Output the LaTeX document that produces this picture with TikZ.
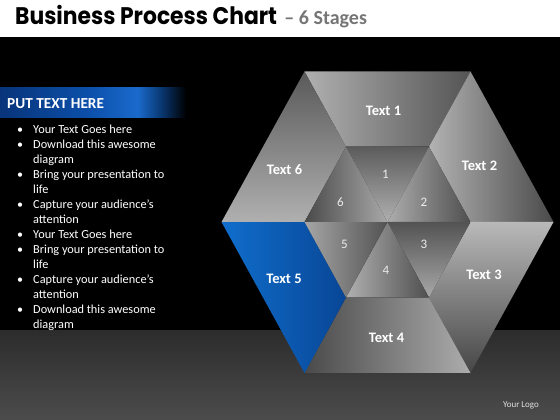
\documentclass[tikz,border=0pt]{standalone}
\usepackage{fontspec}
\setmainfont{Carlito}
\newfontfamily\titlefont{Poppins}
\usetikzlibrary{calc}
\definecolor{bbA}{RGB}{8,52,122}
\definecolor{bbB}{RGB}{12,80,170}
\definecolor{bbC}{RGB}{26,106,204}
\definecolor{bbD}{RGB}{10,58,118}
\definecolor{subgray}{RGB}{118,118,118}
\definecolor{floorTop}{RGB}{44,44,44}
\definecolor{floorBot}{RGB}{76,76,76}
\definecolor{numgray}{RGB}{236,236,236}
\definecolor{blueL}{RGB}{16,110,204}
\definecolor{blueD}{RGB}{8,70,150}
\pgfdeclarehorizontalshading{bluebar}{100bp}{color(0bp)=(bbA); color(25bp)=(bbA); color(49bp)=(bbB); color(62bp)=(bbC); color(68bp)=(bbD); color(75bp)=(black); color(100bp)=(black)}
\tikzset{
  face/.style={draw=none},
  bigtxt/.style={text=white, font=\bfseries\fontsize{14.5}{16}\selectfont, inner sep=0},
  numtxt/.style={text=numgray, font=\fontsize{13}{14}\selectfont, inner sep=0},
  bulletline/.style={anchor=base west, text=white, font=\fontsize{12.3}{15}\selectfont, inner sep=0},
  bulletdot/.style={anchor=base, text=white, font=\fontsize{12}{15}\selectfont, inner sep=0}
}
\begin{document}
\begin{tikzpicture}[x=1pt,y=1pt]
\useasboundingbox (0,0) rectangle (560,420);
% background
\fill[white] (0,383) rectangle (560,420);
\fill[black] (0,89) rectangle (560,383);
\shade[top color=floorTop, bottom color=floorBot] (0,0) rectangle (560,89);
% title
\node[anchor=base west, inner sep=0] (title) at (15,395)
  {\scalebox{0.91}[1]{\titlefont\bfseries\fontsize{24}{24}\selectfont Business Process Chart}};
\node[anchor=base west, inner sep=0, text=subgray] (sub) at ($(title.base east)+(7,0)$)
  {\bfseries\fontsize{20}{20}\selectfont – 6 Stages};
% left panel
\shade[shading=bluebar] (0,302) rectangle (186,332);
\node[anchor=base west, inner sep=0, text=white, font=\bfseries\fontsize{15.3}{16}\selectfont] (head) at (7,311.5) {PUT TEXT HERE};
\foreach \k/\t in {1/{Your Text Goes here},2/{Download this awesome},3/{diagram},4/{Bring your presentation to},5/{life},6/{Capture your audience’s},7/{attention},8/{Your Text Goes here},9/{Bring your presentation to},10/{life},11/{Capture your audience’s},12/{attention},13/{Download this awesome},14/{diagram}}{
  \node[bulletline] (line\k) at (33,{420-134-15*(\k-1)}) {\t};
}
\foreach \k in {1,2,4,6,8,9,11,13}{
  \node[bulletdot] (dot\k) at (20,{420-134-15*(\k-1)}) {•};
}
% hexagon geometry
\coordinate (C) at (387.5,198);
\coordinate (OR) at (553.5,198);
\coordinate (OTR) at (470.5,348.5);
\coordinate (OTL) at (304.5,348.5);
\coordinate (OL) at (221.5,198);
\coordinate (OBL) at (304.5,47);
\coordinate (OBR) at (470.5,47);
\coordinate (IR) at (470.5,198);
\coordinate (ITR) at (429,273.25);
\coordinate (ITL) at (346,273.25);
\coordinate (IL) at (304.5,198);
\coordinate (IBL) at (346,122.5);
\coordinate (IBR) at (429,122.5);
% outer faces
\shade[face, left color=gray!62, right color=gray!66!black] (OTL) -- (OTR) -- (ITR) -- (ITL) -- cycle;
\shade[face, left color=gray!60, right color=gray!58!black] (OTR) -- (OR) -- (IR) -- (ITR) -- cycle;
\shade[face, top color=gray!55, bottom color=gray!55!black] (OR) -- (OBR) -- (IBR) -- (IR) -- cycle;
\shade[face, left color=gray!58!black, right color=gray!65] (OBR) -- (OBL) -- (IBL) -- (IBR) -- cycle;
\shade[face, left color=blueL, right color=blueD] (OBL) -- (OL) -- (IL) -- (IBL) -- cycle;
\shade[face, top color=gray!70!black, bottom color=gray!62] (OL) -- (OTL) -- (ITL) -- (IL) -- cycle;
% inner triangles
\shade[face, top color=gray!72!black, bottom color=gray!62] (C) -- (ITL) -- (ITR) -- cycle;
\shade[face, left color=gray!65, right color=gray!62!black] (C) -- (ITR) -- (IR) -- cycle;
\shade[face, top color=gray!65!black, bottom color=gray!68] (C) -- (IR) -- (IBR) -- cycle;
\shade[face, left color=gray!62, right color=gray!62!black] (C) -- (IBR) -- (IBL) -- cycle;
\shade[face, left color=gray!70, right color=gray!65!black] (C) -- (IBL) -- (IL) -- cycle;
\shade[face, left color=gray!58!black, right color=gray!68] (C) -- (IL) -- (ITL) -- cycle;
% labels
\node[bigtxt] (t1) at (383.5,309.5) {Text 1};
\node[bigtxt] (t2) at (479.5,254) {Text 2};
\node[bigtxt] (t3) at (484,145) {Text 3};
\node[bigtxt] (t4) at (386.5,82) {Text 4};
\node[bigtxt] (t5) at (284,141.5) {Text 5};
\node[bigtxt] (t6) at (284.5,250.5) {Text 6};
\node[numtxt] (n1) at (385.5,245.5) {1};
\node[numtxt] (n2) at (424,217.5) {2};
\node[numtxt] (n3) at (424,176) {3};
\node[numtxt] (n4) at (386,150) {4};
\node[numtxt] (n5) at (344.5,176) {5};
\node[numtxt] (n6) at (340.5,217.5) {6};
% logo
\node[text=white!88!black, font=\fontsize{9}{10}\selectfont, inner sep=0] (logo) at (521,15) {Your Logo};
\end{tikzpicture}
\end{document}
